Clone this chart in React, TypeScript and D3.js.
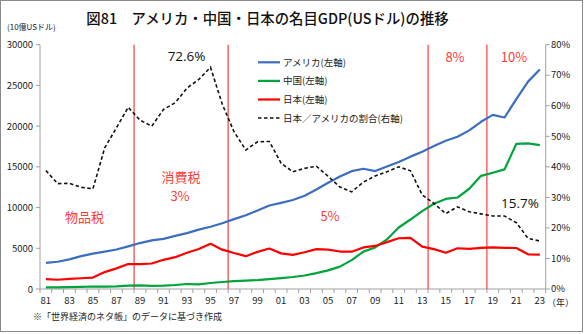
import React from "react";
import * as d3 from "d3";

const years = ["81","82","83","84","85","86","87","88","89","90","91","92","93","94","95","96","97","98","99","00","01","02","03","04","05","06","07","08","09","10","11","12","13","14","15","16","17","18","19","20","21","22","23"];
const usa = [3207,3344,3634,4037,4339,4580,4855,5236,5642,5963,6158,6520,6859,7287,7640,8073,8578,9063,9631,10251,10582,10929,11456,12217,13039,13815,14474,14770,14478,15049,15600,16254,16843,17551,18206,18695,19477,20533,21381,21060,23315,25464,26950];
const china = [196,205,231,260,309,300,327,407,456,395,415,494,617,564,734,863,961,1029,1094,1211,1339,1471,1660,1955,2286,2752,3550,4594,5102,6087,7552,8532,9570,10475,11062,11233,12311,13895,14280,14688,17820,17882,17662];
const japan = [1218,1134,1243,1318,1399,2078,2533,3072,3054,3133,3584,3909,4454,4907,5546,4833,4415,4033,4562,4968,4374,4183,4519,4893,4831,4601,4579,5106,5289,5759,6233,6272,5212,4897,4445,5004,4931,5041,5118,5055,5034,4256,4213];
const ratio = [38.8,34.5,34.6,33.3,32.8,46.2,52.8,59.5,55.3,53.3,58.8,61.0,65.8,68.6,72.6,60.5,51.5,45.5,48.2,48.3,41.2,38.4,39.5,40.2,36.9,33.4,31.8,35.0,37.0,38.4,40.0,38.7,30.8,28.0,24.7,26.9,25.3,24.6,23.9,23.9,21.7,16.6,15.7];
const leftTicks = [0,5000,10000,15000,20000,25000,30000];
const rightTicks = [0,10,20,30,40,50,60,70,80];
const taxYears = ["89","97","14","19"];
const seriesNames = ["アメリカ(左軸)","中国(左軸)","日本(左軸)","日本／アメリカの割合(右軸)"];

const W = 586, H = 334;
const L = 40, R = 545.7, T = 44.7, B = 289;
const font = "'Noto Sans CJK JP', 'Noto Sans', sans-serif";
const red = "#FF3B3B";

export default function App() {
  const x = d3.scaleBand<string>().domain(years).range([L, R]).padding(0);
  const cx = (i: number) => (x(years[i]) as number) + x.bandwidth() / 2;
  const yL = d3.scaleLinear().domain([0, 30000]).range([B, T]);
  const yR = d3.scaleLinear().domain([0, 80]).range([B, T]);
  const lineL = d3.line<number>().x((_, i) => cx(i)).y((d) => yL(d));
  const lineR = d3.line<number>().x((_, i) => cx(i)).y((d) => yR(d));

  const series = [
    { name: seriesNames[0], data: usa, color: "#3C6EBF" },
    { name: seriesNames[1], data: china, color: "#00A33C" },
    { name: seriesNames[2], data: japan, color: "#FF0000" },
  ];

  return (
    <svg width={W} height={H} style={{ position: "absolute", left: 0, top: 0, background: "#fff" }} fontFamily={font}>
      <rect x={0.5} y={0.5} width={582} height={331} fill="#fff" stroke="#8a8a8a" strokeWidth={1} />
      <text x={267.5} y={24} textAnchor="middle" fontSize={14.4} fontWeight={500} fill="#111">図81　アメリカ・中国・日本の名目GDP(USドル)の推移</text>
      <text x={7} y={30} fontSize={8} fill="#222">(10億USドル)</text>

      {/* axes */}
      <line x1={L} x2={L} y1={T} y2={B} stroke="#a0a0a0" />
      <line x1={R} x2={R} y1={T} y2={B} stroke="#a0a0a0" />
      <line x1={L} x2={R} y1={B} y2={B} stroke="#a0a0a0" />
      {leftTicks.map((t) => (
        <g key={"l" + t}>
          <line x1={L - 4} x2={L} y1={yL(t)} y2={yL(t)} stroke="#a0a0a0" />
          <text x={33} y={yL(t) + 3.5} textAnchor="end" fontSize={9.5} fill="#222">{t}</text>
        </g>
      ))}
      {rightTicks.map((t) => (
        <g key={"r" + t}>
          <line x1={R} x2={R + 4} y1={yR(t)} y2={yR(t)} stroke="#a0a0a0" />
          <text x={551} y={yR(t) + 3.2} fontSize={9.5} fill="#222">{t}%</text>
        </g>
      ))}
      {years.map((yr) => (
        <line key={"xt" + yr} x1={x(yr) as number} x2={x(yr) as number} y1={B} y2={B + 4} stroke="#a0a0a0" />
      ))}
      <line x1={R} x2={R} y1={B} y2={B + 4} stroke="#a0a0a0" />
      {years.map((yr, i) => (i % 2 === 0 ? (
        <text key={"xl" + yr} x={cx(i)} y={304} textAnchor="middle" fontSize={9.5} fill="#222">{yr}</text>
      ) : null))}
      <text x={547} y={306} fontSize={9} fill="#222">（年）</text>

      {/* tax lines */}
      {taxYears.map((yr, k) => (
        <line key={"tax" + yr} x1={x(yr) as number} x2={x(yr) as number} y1={T} y2={B}
          stroke={k < 2 ? "#F07070" : "#FF2A2A"} strokeWidth={k < 2 ? 1.6 : 1.1} />
      ))}

      {/* series */}
      {series.map((s) => (
        <path key={s.name} d={lineL(s.data) as string} fill="none" stroke={s.color} strokeWidth={2.2} strokeLinejoin="round" />
      ))}
      <path d={lineR(ratio) as string} fill="none" stroke="#111" strokeWidth={1.6} strokeDasharray="3.5,2.5" />

      {/* legend */}
      {series.map((s, k) => (
        <g key={"lg" + k}>
          <line x1={258} x2={280} y1={62.3 + k * 18.6} y2={62.3 + k * 18.6} stroke={s.color} strokeWidth={2.2} />
          <text x={283} y={62.3 + k * 18.6 + 3.5} fontSize={9.5} fill="#222">{s.name}</text>
        </g>
      ))}
      <line x1={258} x2={280} y1={118} y2={118} stroke="#111" strokeWidth={1.6} strokeDasharray="3.5,2.5" />
      <text x={283} y={121.5} fontSize={9.5} fill="#222">{seriesNames[3]}</text>

      {/* annotations */}
      <text x={cx(14) - 5} y={60.5} textAnchor="end" fontSize={13.5} fill="#111" fontFamily="'Open Sans', sans-serif">{ratio[14].toFixed(1)}%</text>
      <text x={539} y={208} textAnchor="end" fontSize={13.5} fill="#111" fontFamily="'Open Sans', sans-serif">{ratio[42].toFixed(1)}%</text>
      <text x={84.5} y={222} textAnchor="middle" fontSize={13} fill={red}>物品税</text>
      <text x={181} y={182} textAnchor="middle" fontSize={13} fill={red}>消費税</text>
      <text x={180} y={201} textAnchor="middle" fontSize={13} fill={red}>3%</text>
      <text x={330} y={221} textAnchor="middle" fontSize={13} fill={red}>5%</text>
      <text x={455} y={61.5} textAnchor="middle" fontSize={13} fill={red}>8%</text>
      <text x={514} y={61.5} textAnchor="middle" fontSize={13} fill={red}>10%</text>

      <text x={33} y={320} fontSize={9} fill="#222">※「世界経済のネタ帳」のデータに基づき作成</text>
    </svg>
  );
}
